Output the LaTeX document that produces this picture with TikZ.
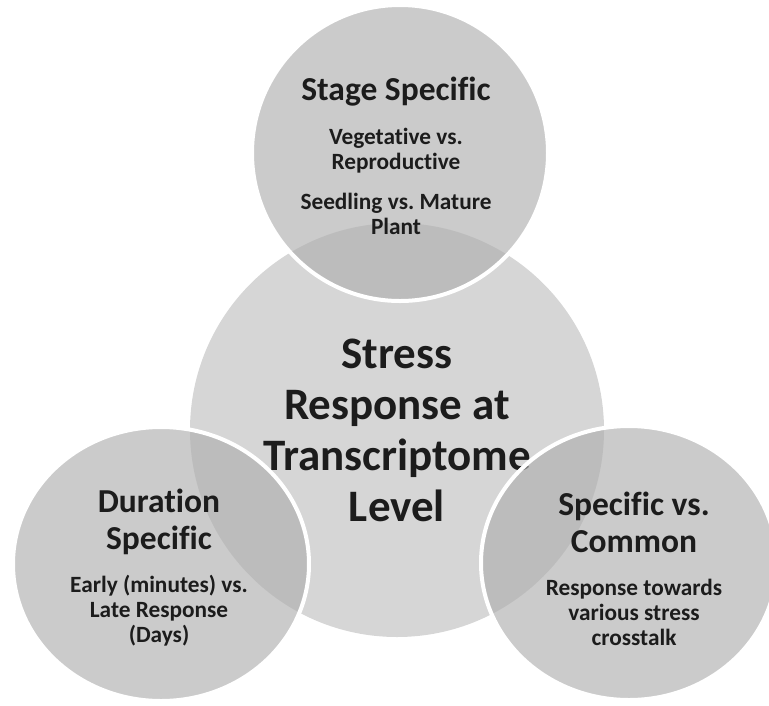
\documentclass[tikz,border=0pt]{standalone}
\usepackage{fontspec}
\setmainfont{Carlito}[Ligatures=NoCommon]
\usepackage{tikz}
\usetikzlibrary{shapes.geometric}
\definecolor{corefill}{RGB}{214,214,214}
\definecolor{ringfill}{RGB}{176,176,176}
\definecolor{inkgray}{RGB}{28,28,28}
\frenchspacing

\begin{document}
\begin{tikzpicture}[x=1pt,y=-1pt,
    core/.style={circle,fill=corefill,minimum size=414pt,inner sep=0pt},
    ring/.style={ellipse,fill=ringfill,fill opacity=0.66,draw=white,line width=4pt,
      minimum width=296pt,minimum height=274pt,inner sep=0pt},
    headline/.style={align=center,text=inkgray,font=\bfseries\fontsize{45}{51}\selectfont},
    title/.style={align=center,text=inkgray,font=\bfseries\fontsize{33.5}{37}\selectfont},
    detail/.style={align=center,text=inkgray,font=\bfseries\fontsize{23.3}{25}\selectfont}]
  \useasboundingbox (0,0) rectangle (769,705);
  % central circle
  \node[core] (core) at (397,430) {};
  \node[headline] (coretext) at (397,430) {Stress\\Response at\\Transcriptome\\Level};
  % top circle
  \node[ring,minimum height=296pt] (stage) at (400,153) {};
  \node[title] (stagetitle) at (396,92) {Stage Specific};
  \node[detail] (stagephase) at (396,151) {Vegetative vs.\\Reproductive};
  \node[detail] (stageage) at (396,214) {Seedling vs. Mature\\Plant};
  % left circle
  \node[ring] (duration) at (161,564) {};
  \node[title] (durtitle) at (159,522) {Duration\\Specific};
  \node[detail] (durtext) at (159,611) {Early (minutes) vs.\\Late Response\\(Days)};
  % right circle
  \node[ring] (common) at (629,563) {};
  \node[title] (comtitle) at (634,522) {Specific vs.\\Common};
  \node[detail] (comtext) at (634,612) {Response towards\\various stress\\crosstalk};
\end{tikzpicture}
\end{document}
